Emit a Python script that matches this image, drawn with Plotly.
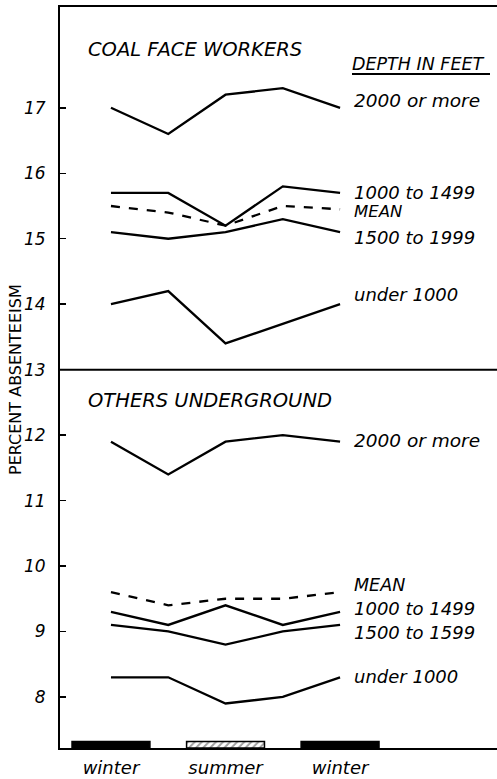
import plotly.graph_objects as go

# ---- data ----
periods = [0, 1, 2, 3, 4]
season_x = [0, 2, 4]
season_labels = ["winter", "summer", "winter"]

coal_labels = ["2000 or more", "1000 to 1499", "MEAN", "1500 to 1999", "under 1000"]
coal_2000 = [17.0, 16.6, 17.2, 17.3, 17.0]
coal_1000_1499 = [15.7, 15.7, 15.2, 15.8, 15.7]
coal_mean = [15.5, 15.4, 15.2, 15.5, 15.45]
coal_1500_1999 = [15.1, 15.0, 15.1, 15.3, 15.1]
coal_under1000 = [14.0, 14.2, 13.4, 13.7, 14.0]

other_labels = ["2000 or more", "MEAN", "1000 to 1499", "1500 to 1599", "under 1000"]
other_2000 = [11.9, 11.4, 11.9, 12.0, 11.9]
other_mean = [9.6, 9.4, 9.5, 9.5, 9.6]
other_1000_1499 = [9.3, 9.1, 9.4, 9.1, 9.3]
other_1500_1599 = [9.1, 9.0, 8.8, 9.0, 9.1]
other_under1000 = [8.3, 8.3, 7.9, 8.0, 8.3]

y_ticks = [8, 9, 10, 11, 12, 13, 14, 15, 16, 17]

# ---- figure ----
YMIN, YMAX = 7.22, 18.54
XMIN, XMAX = -0.89, 6.74
FONT = "DejaVu Sans"
PLOT_L, PLOT_T, PLOT_W, PLOT_H = 60, 7, 437, 741


def px_to_paper_x(px):
    return (px - PLOT_L) / PLOT_W


def px_to_paper_y(py):
    return 1 - (py - PLOT_T) / PLOT_H


fig = go.Figure()

series = [
    (coal_2000, coal_labels[0], "solid", 7, 18.5),
    (coal_1000_1499, coal_labels[1], "solid", 0, 18),
    (coal_mean, coal_labels[2], "dash", -2, 16.5),
    (coal_1500_1999, coal_labels[3], "solid", -5, 18),
    (coal_under1000, coal_labels[4], "solid", 10, 18),
    (other_2000, other_labels[0], "solid", 1, 18.5),
    (other_mean, other_labels[1], "dash", 7, 17.5),
    (other_1000_1499, other_labels[2], "solid", 3, 18),
    (other_1500_1599, other_labels[3], "solid", -8, 18),
    (other_under1000, other_labels[4], "solid", 1, 18),
]

annotations = []
for vals, lab, dash, ysh, fs in series:
    fig.add_trace(go.Scatter(
        x=periods, y=vals, mode="lines",
        line=dict(color="black", width=2.3, dash=dash),
        showlegend=False, hoverinfo="skip"))
    annotations.append(dict(
        x=periods[-1] + 0.26, y=vals[-1], xref="x", yref="y",
        text=lab, showarrow=False, xanchor="left", yanchor="middle",
        yshift=ysh, xshift=-3,
        font=dict(family=FONT, size=fs, color="black", style="italic")))

# season bars along the bottom
fig.add_trace(go.Bar(
    x=season_x, y=[0.1] * len(season_x), base=YMIN, width=1.36,
    marker=dict(
        color=["black" if s == "winter" else "white" for s in season_labels],
        line=dict(color="black", width=1.5),
        pattern=dict(shape=["" if s == "winter" else "/" for s in season_labels],
                     fgcolor="black", bgcolor="white", size=5, solidity=0.4)),
    showlegend=False, hoverinfo="skip"))

# panel titles
annotations.append(dict(x=px_to_paper_x(86), y=px_to_paper_y(50), xref="paper", yref="paper",
                        text="COAL FACE WORKERS", showarrow=False, xanchor="left",
                        yanchor="middle",
                        font=dict(family=FONT, size=19.5, color="black", style="italic")))
annotations.append(dict(x=px_to_paper_x(86), y=px_to_paper_y(400), xref="paper", yref="paper",
                        text="OTHERS UNDERGROUND", showarrow=False, xanchor="left",
                        yanchor="middle",
                        font=dict(family=FONT, size=19.5, color="black", style="italic")))
annotations.append(dict(x=px_to_paper_x(350), y=px_to_paper_y(64), xref="paper", yref="paper",
                        text="DEPTH IN FEET", showarrow=False, xanchor="left",
                        yanchor="middle",
                        font=dict(family=FONT, size=17.5, color="black", style="italic")))
# y-axis title
annotations.append(dict(x=px_to_paper_x(15), y=px_to_paper_y(380), xref="paper", yref="paper",
                        text="PERCENT ABSENTEEISM", showarrow=False, textangle=-90,
                        xanchor="center", yanchor="middle",
                        font=dict(family=FONT, size=16, color="black")))

shapes = [
    # divider between panels
    dict(type="line", xref="paper", yref="y", x0=0, x1=1, y0=13, y1=13,
         line=dict(color="black", width=2)),
    # underline for DEPTH IN FEET
    dict(type="line", xref="paper", yref="paper",
         x0=px_to_paper_x(352), x1=px_to_paper_x(490),
         y0=px_to_paper_y(74), y1=px_to_paper_y(74),
         line=dict(color="black", width=1.8)),
]

fig.update_layout(
    width=497, height=779,
    margin=dict(l=PLOT_L, r=0, t=PLOT_T, b=779 - PLOT_T - PLOT_H, autoexpand=False),
    paper_bgcolor="white", plot_bgcolor="white",
    bargap=0,
    annotations=annotations, shapes=shapes,
    font=dict(family=FONT, color="black"),
    xaxis=dict(range=[XMIN, XMAX], tickmode="array", tickvals=season_x,
               ticktext=season_labels, ticks="", showgrid=False, zeroline=False,
               showline=True, linecolor="black", linewidth=2, mirror=True,
               automargin=False, ticklabelstandoff=2,
               tickfont=dict(family=FONT, size=18, color="black", style="italic")),
    yaxis=dict(range=[YMIN, YMAX], tickmode="array", tickvals=y_ticks,
               ticks="inside", ticklen=6, tickwidth=1.5, tickcolor="black",
               showgrid=False, zeroline=False, showline=True, linecolor="black",
               linewidth=2, mirror=False, automargin=False, ticklabelstandoff=9,
               tickfont=dict(family=FONT, size=17, color="black", style="italic")),
)

fig.write_html(
    "out.html",
    config={"displayModeBar": False, "staticPlot": True},
    post_script="document.body.style.margin='0';document.body.style.overflow='hidden';",
)
